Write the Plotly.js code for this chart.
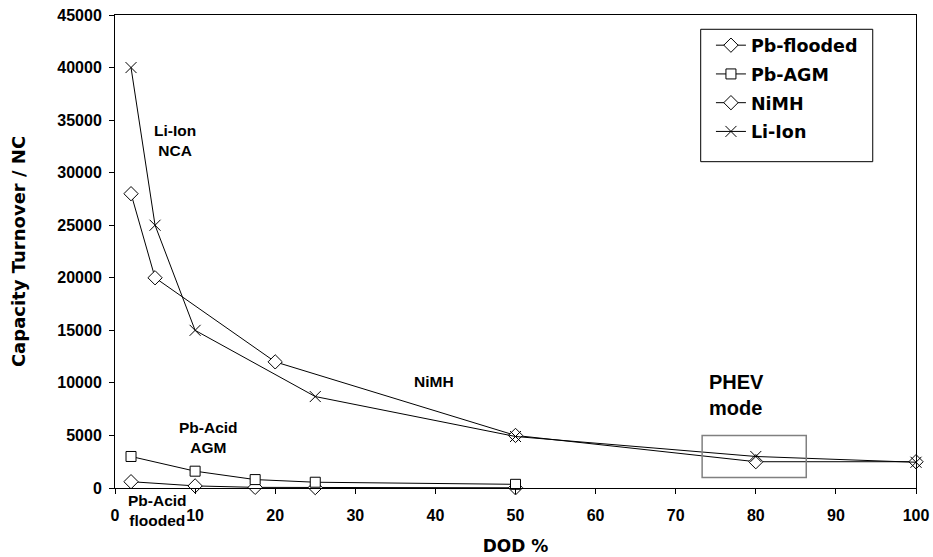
<!DOCTYPE html>
<html>
<head>
<meta charset="utf-8">
<script src="https://cdn.plot.ly/plotly-3.0.1.min.js"></script>
<style>html,body{margin:0;padding:0;background:#fff;}#chart{width:933px;height:557px;}</style>
</head>
<body>
<div id="chart"></div>
<script>
// DOD % values and capacity turnover per technology
const dodFlooded = [2, 10, 17.5, 25, 50];
const pbFlooded = [600, 200, 60, 40, 20];

const dodAGM = [2, 10, 17.5, 25, 50];
const pbAGM = [3000, 1600, 800, 550, 350];

const dodNiMH = [2, 5, 20, 50, 80, 100];
const niMH = [28000, 20000, 12000, 5000, 2500, 2500];

const dodLiIon = [2, 5, 10, 25, 50, 80, 100];
const liIon = [40000, 25000, 15000, 8700, 4900, 3000, 2450];

const seriesNames = ['Pb-flooded', 'Pb-AGM', 'NiMH', 'Li-Ion'];
const xTicks = [0, 10, 20, 30, 40, 50, 60, 70, 80, 90, 100];
const yTicks = [0, 5000, 10000, 15000, 20000, 25000, 30000, 35000, 40000, 45000];

const FONT = 'Liberation Sans, Arial, sans-serif';
const WIDE = 'DejaVu Sans, Liberation Sans, sans-serif';

function trace(x, y, name, symbol, size, fill) {
  return {
    x: x, y: y, name: name, type: 'scatter', mode: 'lines+markers',
    legendgroup: name,
    line: {color: '#000', width: 1},
    marker: {symbol: symbol, size: size, color: fill, line: {color: '#000', width: 1}},
    cliponaxis: false
  };
}

const data = [
  trace(dodFlooded, pbFlooded, seriesNames[0], 'diamond', 11, '#fff'),
  trace(dodAGM, pbAGM, seriesNames[1], 'square', 10, '#fff'),
  trace(dodNiMH, niMH, seriesNames[2], 'diamond', 11, '#fff'),
  trace(dodLiIon, liIon, seriesNames[3], 'x-thin-open', 11, '#000')
];

const layout = {
  width: 933, height: 557,
  margin: {l: 115, r: 17, t: 15, b: 69},
  paper_bgcolor: '#fff', plot_bgcolor: '#fff',
  font: {family: FONT, color: '#000'},
  showlegend: true,
  legend: {
    x: 0.744, y: 0.974, xanchor: 'left', yanchor: 'top',
    bgcolor: 'rgba(0,0,0,0)', borderwidth: 0,
    font: {family: WIDE, size: 17.5, color: '#000', weight: 'bold'},
    itemwidth: 30, traceorder: 'grouped', tracegroupgap: 3
  },
  xaxis: {
    range: [0, 100], tickvals: xTicks, ticktext: xTicks.map(String),
    showgrid: false, zeroline: false,
    showline: true, linecolor: '#000', linewidth: 1, mirror: true,
    ticks: 'outside', ticklen: 5, tickcolor: '#000',
    ticklabelstandoff: 8,
    tickfont: {family: FONT, size: 16, color: '#000', weight: 'bold'},
    title: {text: 'DOD %', font: {family: WIDE, size: 17, color: '#000', weight: 'bold'}, standoff: 16}
  },
  yaxis: {
    range: [0, 45000], tickvals: yTicks, ticktext: yTicks.map(String),
    showgrid: false, zeroline: false,
    showline: true, linecolor: '#000', linewidth: 1, mirror: true,
    ticks: 'outside', ticklen: 5, tickcolor: '#000',
    ticklabelstandoff: 4,
    tickfont: {family: FONT, size: 16, color: '#000', weight: 'bold'},
    title: {text: 'Capacity Turnover / NC', font: {family: WIDE, size: 18, color: '#000', weight: 'bold'}, standoff: 26}
  },
  shapes: [
    {type: 'rect', xref: 'x', yref: 'y', x0: 73.3, x1: 86.3, y0: 1000, y1: 5000,
     line: {color: '#808080', width: 1.5}, fillcolor: 'rgba(0,0,0,0)'},
    {type: 'rect', xref: 'paper', yref: 'paper', x0: 0.7312, x1: 0.946, y0: 0.6899, y1: 0.9698,
     layer: 'above', line: {color: '#000', width: 1}, fillcolor: '#fff'}
  ],
  annotations: [
    {x: 7.5, y: 33100, xref: 'x', yref: 'y', text: 'Li-Ion<br>NCA', showarrow: false,
     font: {family: FONT, size: 15.5, weight: 'bold'}},
    {x: 39.8, y: 10150, xref: 'x', yref: 'y', text: 'NiMH', showarrow: false,
     font: {family: FONT, size: 15.5, weight: 'bold'}},
    {x: 11.7, y: 4850, xref: 'x', yref: 'y', text: 'Pb-Acid<br>AGM', showarrow: false,
     font: {family: FONT, size: 15.5, weight: 'bold'}},
    {x: 5.25, y: -0.0486, xref: 'x', yref: 'paper', xanchor: 'center', yanchor: 'middle',
     text: 'Pb-Acid<br>flooded', showarrow: false,
     font: {family: FONT, size: 15.5, weight: 'bold'}},
    {x: 77.6, y: 8850, xref: 'x', yref: 'y', text: 'PHEV<br>mode', showarrow: false, align: 'left',
     font: {family: FONT, size: 20, weight: 'bold'}}
  ]
};

Plotly.newPlot('chart', data, layout, {displayModeBar: false, staticPlot: true});
</script>
</body>
</html>
